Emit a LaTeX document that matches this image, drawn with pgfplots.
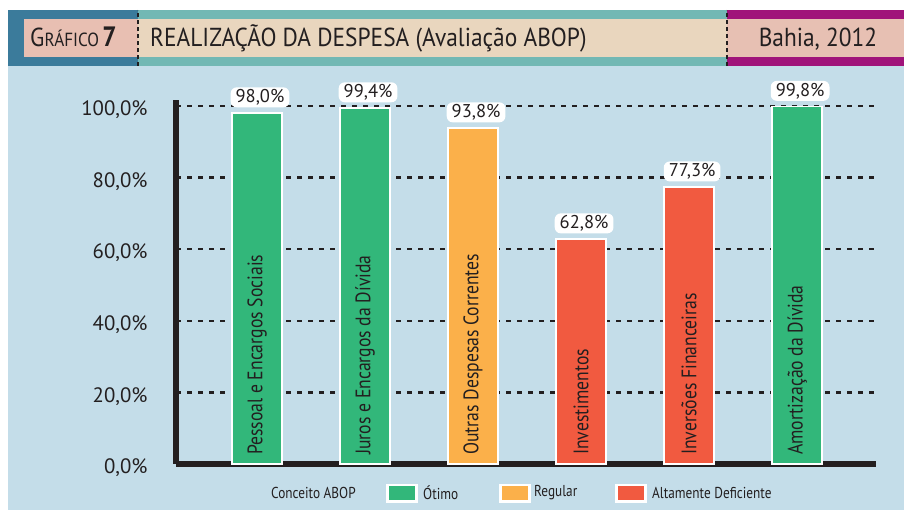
\documentclass[border=0pt]{standalone}
\usepackage{pgfplots}
\pgfplotsset{compat=1.18}
\usepackage{fontspec}
\setmainfont{PT Sans}
\newfontfamily\cond[FakeStretch=0.84]{PT Sans}
\newfontfamily\condt[FakeStretch=0.9]{PT Sans}
\definecolor{bgblue}{HTML}{C4DDE9}
\definecolor{cgreen}{HTML}{32B77A}
\definecolor{corange}{HTML}{FBB04A}
\definecolor{cred}{HTML}{F15A40}
\definecolor{dark}{HTML}{231F20}
\definecolor{hdrblue}{HTML}{3B7B9B}
\definecolor{hdrpink}{HTML}{E8BFB2}
\definecolor{hdrteal}{HTML}{72B8B4}
\definecolor{hdrbeige}{HTML}{E9D6BE}
\definecolor{hdrmag}{HTML}{A0137A}
\definecolor{hdrpink2}{HTML}{E7C0B3}
\pgfplotstableread{
x y
0 98.0
1 99.4
5 99.8
}\otimo
\pgfplotstableread{
x y
2 93.8
}\regular
\pgfplotstableread{
x y
3 62.8
4 77.3
}\deficiente
\begin{document}
\begin{tikzpicture}[x=1pt,y=1pt]
\useasboundingbox (0,0) rectangle (904,510);
% background
\fill[bgblue] (8,0) rectangle (904,444);
% header
\fill[hdrblue] (8,444) rectangle (138,500);
\fill[hdrpink] (24,453) rectangle (138,491);
\fill[hdrteal] (138,444) rectangle (727,500);
\fill[hdrbeige] (138,453) rectangle (727,491);
\fill[hdrmag] (727,444) rectangle (904,500);
\fill[hdrpink2] (727,453) rectangle (904,491);
\draw[dark, line width=1.6pt, dash pattern=on 4pt off 3pt] (138,444) -- (138,500);
\draw[dark, line width=1.6pt, dash pattern=on 4pt off 3pt] (727,444) -- (727,500);
\node[anchor=base west, text=dark, inner sep=0pt] at (30,463) {\condt{\fontsize{26}{26}\selectfont G\fontsize{19}{19}\selectfont RÁFICO\,\fontsize{28}{28}\selectfont\bfseries 7}};
\node[anchor=base west, text=dark, inner sep=0pt] at (150,463) {\condt\fontsize{26}{26}\selectfont REALIZAÇÃO DA DESPESA (Avaliação ABOP)};
\node[anchor=base, text=dark, inner sep=0pt] at (818,463) {\condt\fontsize{26}{26}\selectfont Bahia, 2012};
\begin{axis}[
  at={(176pt,46pt)}, anchor=south west,
  scale only axis, width=700pt, height=363.5pt,
  xmin=-0.75, xmax=5.73, ymin=0, ymax=101.5,
  axis x line*=bottom, axis y line*=left,
  axis line style={dark, line width=6pt, -},
  xtick=\empty,
  ytick={0,20,40,60,80,100},
  yticklabels={{0,0\%},{20,0\%},{40,0\%},{60,0\%},{80,0\%},{100,0\%}},
  yticklabel style={font=\fontsize{20.8}{20.8}\selectfont, text=dark, xshift=-25pt, yshift=-4pt},
  major tick length=0pt,
  ymajorgrids,
  major grid style={dark, line width=2.4pt, dash pattern=on 5pt off 6pt},
  ybar, bar width=50pt, bar shift=0pt,
  /pgf/number format/assume math mode=true,
  nodes near coords={\pgfmathprintnumber[fixed, fixed zerofill, precision=1, use comma]{\pgfplotspointmeta}\%},
  every node near coord/.append style={font=\fontsize{18.5}{18.5}\selectfont, text=dark, fill=white, rounded corners=6pt, inner xsep=5pt, inner ysep=2pt, anchor=south, yshift=5pt, xshift=3pt},
  clip=false,
]
\addplot[fill=cgreen, draw=white, line width=1.5pt] table[x=x,y=y] {\otimo};
\addplot[fill=corange, draw=white, line width=1.5pt] table[x=x,y=y] {\regular};
\addplot[fill=cred, draw=white, line width=1.5pt] table[x=x,y=y] {\deficiente};
\foreach \i/\t in {0/{Pessoal e Encargos Sociais},1/{Juros e Encargos da Dívida},2/{Outras Despesas Correntes},3/{Investimentos},4/{Inversões Financeiras},5/{Amortização da Dívida}}{
  \edef\temp{\noexpand\node[rotate=90, anchor=west, text=dark, inner sep=0pt, font=\noexpand\cond\noexpand\fontsize{21}{21}\noexpand\selectfont] at (axis cs:\i,2.5) {\t};}
  \temp
}
\end{axis}
% legend
\node[anchor=west, text=dark, inner sep=0pt, font=\cond\fontsize{15.8}{15.8}\selectfont] at (271,17) {Conceito ABOP};
\fill[white] (386,7) rectangle (418,26);
\fill[cgreen] (389,9.5) rectangle (415,23.5);
\node[anchor=west, text=dark, inner sep=0pt, font=\cond\fontsize{15.8}{15.8}\selectfont] at (423,17) {Ótimo};
\fill[white] (499,7) rectangle (531,26);
\fill[corange] (502,9.5) rectangle (528,23.5);
\node[anchor=west, text=dark, inner sep=0pt, font=\cond\fontsize{15.8}{15.8}\selectfont] at (534,17) {Regular};
\fill[white] (615,7) rectangle (647,26);
\fill[cred] (618,9.5) rectangle (644,23.5);
\node[anchor=west, text=dark, inner sep=0pt, font=\cond\fontsize{15.8}{15.8}\selectfont] at (652,17) {Altamente Deficiente};
\end{tikzpicture}
\end{document}
